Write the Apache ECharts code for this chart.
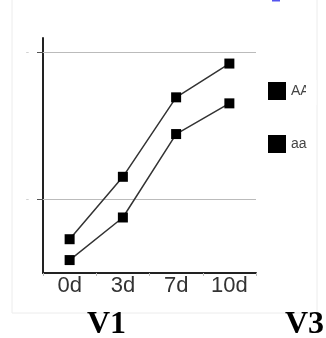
<!DOCTYPE html>
<html lang="en">
<head>
    <meta charset="UTF-8">
    <title>chart</title>
    <style>
        html, body {
            margin: 0;
            padding: 0;
            background: #fff;
        }

        #main {
            width: 326px;
            height: 338px;
        }
    </style>
</head>
<body>
<div id="main"></div>
<script src="https://cdn.jsdelivr.net/npm/echarts@6/dist/echarts.min.js"></script>
<script>
    // data
    const days = ['0d', '3d', '7d', '10d']
    const seriesNames = ['AA', 'aa']
    const valuesAA = [0.73, 1.155, 1.696, 1.926]
    const valuesaa = [0.588, 0.878, 1.446, 1.655]
    const gridValues = [1, 2]
    const panelLabels = ['V1', 'V3']

    let myChart = echarts.init(document.querySelector('#main'))

    let lineSeries = function (name, data) {
        return {
            name: name,
            type: 'line',
            data: data,
            symbol: 'rect',
            symbolSize: 10,
            itemStyle: {color: '#000'},
            lineStyle: {color: '#333', width: 1.5},
            z: 5
        }
    }

    let option = {
        animation: false,
        backgroundColor: '#fff',
        textStyle: {fontFamily: 'Liberation Sans'},
        grid: {left: 43, right: 70, top: 38, bottom: 65},
        legend: {
            orient: 'vertical',
            left: 268,
            top: 82,
            padding: 0,
            itemWidth: 18,
            itemHeight: 18,
            itemGap: 35,
            icon: 'rect',
            itemStyle: {color: '#000'},
            textStyle: {fontSize: 14, color: '#444', fontFamily: 'Liberation Sans'},
            data: seriesNames
        },
        xAxis: {
            type: 'category',
            data: days,
            boundaryGap: true,
            axisLine: {lineStyle: {color: '#222', width: 2}},
            axisTick: {show: true, length: 3, inside: false, lineStyle: {color: '#bbb'}},
            axisLabel: {fontSize: 22, color: '#333', margin: 2, fontFamily: 'Liberation Sans'}
        },
        yAxis: {
            type: 'value',
            min: 0.5,
            max: 2.1,
            splitLine: {show: false},
            axisLine: {show: true, lineStyle: {color: '#222', width: 2}},
            axisTick: {show: true, length: 6, customValues: gridValues, lineStyle: {color: '#555'}},
            axisLabel: {
                show: true,
                customValues: gridValues,
                formatter: () => '-',
                color: '#ccc',
                fontSize: 10,
                margin: 14
            }
        },
        series: [
            Object.assign(lineSeries(seriesNames[0], valuesAA), {
                markLine: {
                    silent: true,
                    symbol: 'none',
                    label: {show: false},
                    lineStyle: {color: '#bbb', type: 'solid', width: 1},
                    data: gridValues.map(v => ({yAxis: v}))
                }
            }),
            lineSeries(seriesNames[1], valuesaa)
        ],
        graphic: [
            {
                type: 'rect',
                shape: {x: 12, y: -5, width: 305, height: 318},
                style: {fill: 'none', stroke: '#ececec', lineWidth: 1},
                z: -1
            },
            {
                type: 'rect',
                shape: {x: 306, y: 80, width: 10.5, height: 25},
                style: {fill: '#fff'},
                z: 100
            },
            {
                type: 'rect',
                shape: {x: 272, y: 0, width: 8, height: 1.5},
                style: {fill: '#5555ee'},
                z: 100
            },
            {
                type: 'text',
                left: 87,
                top: 309,
                style: {
                    text: panelLabels[0],
                    font: 'bold 32px "Liberation Serif"',
                    fill: '#000'
                }
            },
            {
                type: 'text',
                left: 285,
                top: 309,
                style: {
                    text: panelLabels[1],
                    font: 'bold 32px "Liberation Serif"',
                    fill: '#000'
                }
            }
        ]
    }
    myChart.setOption(option)
</script>
</body>
</html>
